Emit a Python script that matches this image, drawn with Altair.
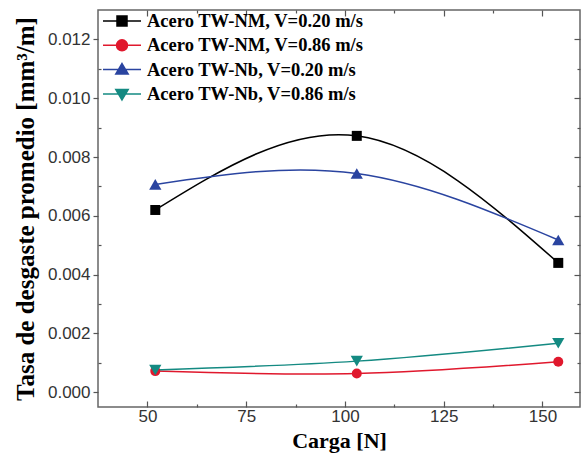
import altair as alt
import pandas as pd

series = [
    "Acero TW-NM, V=0.20 m/s",
    "Acero TW-NM, V=0.86 m/s",
    "Acero TW-Nb, V=0.20 m/s",
    "Acero TW-Nb, V=0.86 m/s",
]
carga = [52, 103, 154]
nm_020 = [0.00620, 0.00872, 0.00440]
nm_086 = [0.00072, 0.00064, 0.00104]
nb_020 = [0.00707, 0.00744, 0.00518]
nb_086 = [0.00076, 0.00106, 0.00167]
colors = ["#000000", "#e0182d", "#2a44a0", "#148a82"]
shapes = ["square", "circle", "triangle-up", "triangle-down"]
sizes = [100, 100, 150, 150]
legend_paths = [
    "M-1.9,0H1.9M-0.5,-0.5H0.5V0.5H-0.5Z",
    "M-1.9,0H1.9M-0.55,0A0.55,0.55 0 1,0 0.55,0A0.55,0.55 0 1,0 -0.55,0Z",
    "M-1.9,0H1.9M0,-0.6L0.62,0.45L-0.62,0.45Z",
    "M-1.9,0H1.9M0,0.6L0.62,-0.45L-0.62,-0.45Z",
]
x_ticks = [50, 75, 100, 125, 150]
x_minor = [62.5, 87.5, 112.5, 137.5]
y_ticks = [0.000, 0.002, 0.004, 0.006, 0.008, 0.010, 0.012]
y_minor = [0.001, 0.003, 0.005, 0.007, 0.009, 0.011]

values_by_series = [nm_020, nm_086, nb_020, nb_086]
rows = []
for s, vals in zip(series, values_by_series):
    for c, v in zip(carga, vals):
        rows.append({"series": s, "carga": c, "tasa": v})
df = pd.DataFrame(rows)

W, H = 482, 397
xs = alt.Scale(domain=[37.5, 159.5], nice=False, zero=False)
ys = alt.Scale(domain=[-0.0005, 0.013], nice=False, zero=False)
TICK = "#555555"

def tick_axis(orient, values, size, offset):
    return alt.Axis(orient=orient, values=values, labels=False, ticks=True,
                    tickSize=size, tickColor=TICK, tickWidth=1.2, domain=False,
                    grid=False, title=None, offset=offset)

x_main = alt.Axis(orient="bottom", values=x_ticks, format="d", ticks=False,
                  domain=False, grid=False, labelFont="Liberation Sans",
                  labelFontSize=17, labelColor="#333333", labelPadding=1,
                  title="Carga [N]", titleFont="Liberation Serif",
                  titleFontWeight="bold", titleFontSize=22, titleColor="black",
                  titlePadding=6)
y_main = alt.Axis(orient="left", values=y_ticks, format=".3f", ticks=True,
                  tickSize=5, tickColor=TICK, tickWidth=1.2, domain=False,
                  grid=False, labelFont="Liberation Sans", labelFontSize=17,
                  labelColor="#333333", labelPadding=3,
                  title="Tasa de desgaste promedio [mm³/m]",
                  titleFont="Liberation Serif", titleFontWeight="bold",
                  titleFontSize=25, titleColor="black", titlePadding=9)

base = alt.Chart(df)

line_layers = []
for i, (s, c) in enumerate(zip(series, colors)):
    ax_x = x_main if i == 0 else None
    ax_y = y_main if i == 0 else None
    line_layers.append(
        base.transform_filter(alt.datum.series == s)
        .mark_line(interpolate="natural", strokeWidth=1.5, color=c)
        .encode(x=alt.X("carga:Q", scale=xs, axis=ax_x),
                y=alt.Y("tasa:Q", scale=ys, axis=ax_y))
    )

point_layers = []
for s, c, shp, sz in zip(series, colors, shapes, sizes):
    point_layers.append(
        base.transform_filter(alt.datum.series == s)
        .mark_point(filled=True, shape=shp, size=sz, color=c, opacity=1)
        .encode(x=alt.X("carga:Q", scale=xs, axis=None),
                y=alt.Y("tasa:Q", scale=ys, axis=None))
    )

leg = alt.Legend(title=None, orient="none", legendX=13, legendY=0,
                 symbolSize=400, symbolStrokeWidth=1.5, symbolOpacity=1,
                 labelFont="Liberation Serif", labelFontWeight="bold",
                 labelFontSize=18.5, labelColor="black", labelLimit=400,
                 labelOffset=14, rowPadding=3.3, padding=0)

legend_layer = base.mark_point(filled=True, size=0, strokeWidth=0).encode(
    x=alt.X("carga:Q", scale=xs, axis=None),
    y=alt.Y("tasa:Q", scale=ys, axis=None),
    fill=alt.Fill("series:N", scale=alt.Scale(domain=series, range=colors), legend=leg),
    stroke=alt.Stroke("series:N", scale=alt.Scale(domain=series, range=colors), legend=leg),
    shape=alt.Shape("series:N", scale=alt.Scale(domain=series, range=legend_paths), legend=leg),
)

def tick_layer(xaxis, yaxis):
    return base.mark_point(opacity=0).encode(
        x=alt.X("carga:Q", scale=xs, axis=xaxis),
        y=alt.Y("tasa:Q", scale=ys, axis=yaxis),
    )

t1 = tick_layer(tick_axis("bottom", x_ticks, 6, -H), tick_axis("left", y_ticks, 6, -W))
t2 = tick_layer(tick_axis("top", x_ticks, 6, -H), tick_axis("right", y_minor, 3, -W))
t3 = tick_layer(tick_axis("top", x_minor, 3, -H), tick_axis("left", y_minor, 3, -W))
t4 = tick_layer(tick_axis("bottom", x_minor, 3, -H), None)

chart = alt.layer(*line_layers, *point_layers, legend_layer, t1, t2, t3, t4).resolve_axis(
    x="independent", y="independent"
).properties(
    width=W, height=H,
    autosize=alt.AutoSizeParams(type="none"),
    padding={"left": 98, "top": 10, "right": 1, "bottom": 54},
    background="white",
).configure_view(stroke="#666666", strokeWidth=1.5)

chart.save("out.html", embed_options={"renderer": "svg", "actions": False})
